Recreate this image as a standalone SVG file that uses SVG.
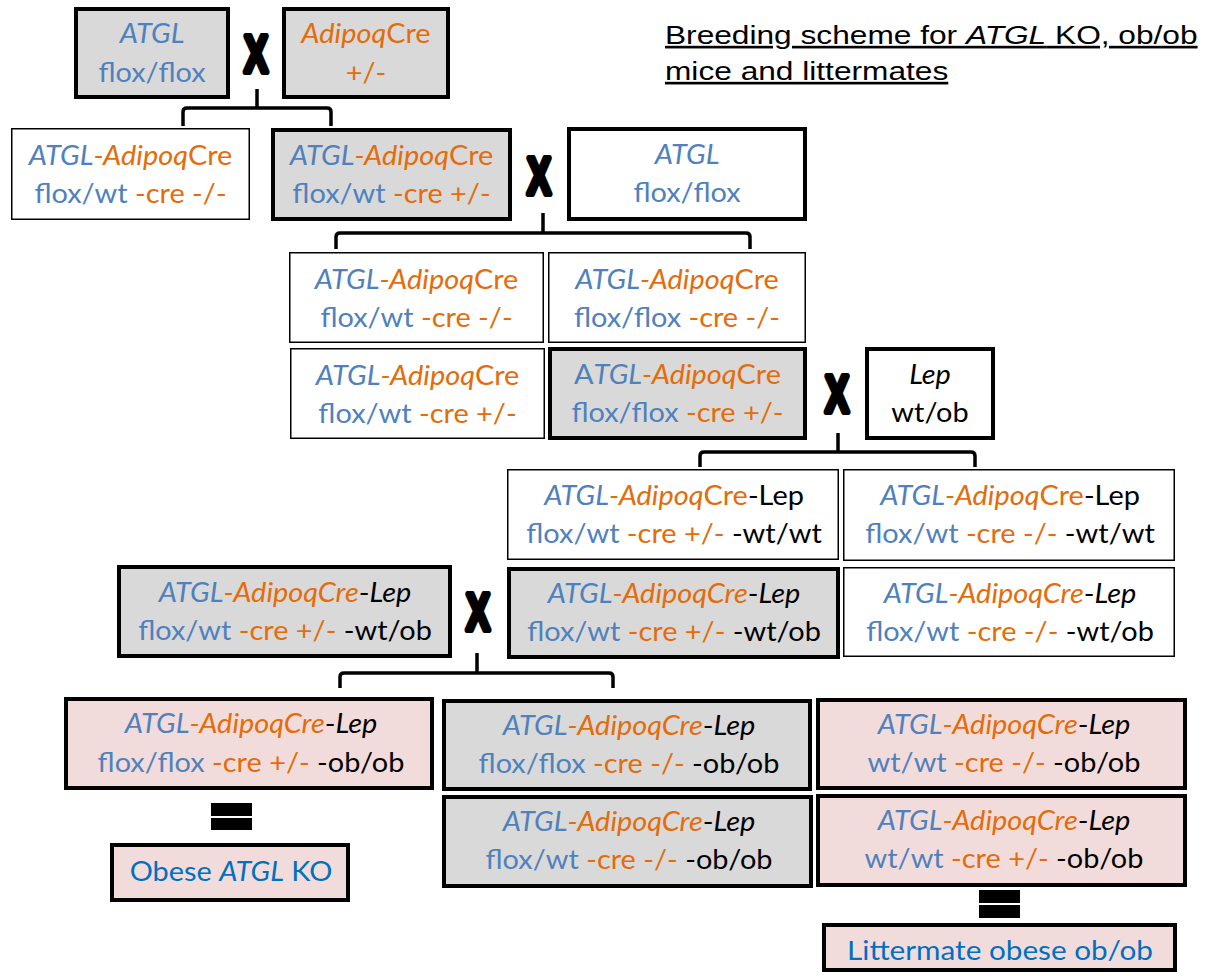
<svg xmlns="http://www.w3.org/2000/svg" width="1215" height="976" viewBox="0 0 1215 976">
<style>
.thin{stroke:#000;stroke-width:1.5}
.thk{stroke:#000;stroke-width:4}
.g{fill:#d9d9d9}.p{fill:#f2dcdb}.w{fill:#fff}
.t{font-family:Lato,"Open Sans",sans-serif;font-size:27px;text-anchor:middle}
.b{fill:#4f81bd}.o{fill:#e46c0a}.k{fill:#000}.i{font-style:italic}.bb{fill:#0070c0}
.ttl{font-family:"Liberation Sans",Arial,sans-serif;font-size:26.5px;fill:#000;text-decoration:underline}
.br{fill:none;stroke:#000;stroke-width:3.5;stroke-linejoin:round;stroke-linecap:butt}
.xm{font-family:"Liberation Sans",Arial,sans-serif;font-weight:bold;font-size:52px;fill:#000;stroke:#000;stroke-width:6;stroke-linejoin:round;text-anchor:middle}
.eq{fill:#000}
</style>
<rect x="0" y="0" width="1215" height="976" fill="#fff"/>

<g id="title" transform="translate(665 0) scale(1.195 1)">
<text class="ttl" x="0" y="44">Breeding scheme for <tspan font-style="italic">ATGL</tspan> KO, ob/ob</text>
<text class="ttl" x="0" y="80">mice and littermates</text>
</g>

<g id="connectors">
<path class="br" d="M257,89 V108 M183,126 V112 Q183,108 187,108 H327 Q331,108 331,112 V126"/>
<path class="br" d="M543,213 V233 M336,249 V237 Q336,233 340,233 H746 Q750,233 750,237 V249"/>
<path class="br" d="M838,433 V452 M700,467 V456 Q700,452 704,452 H971 Q975,452 975,456 V467"/>
<path class="br" d="M477,653 V673 M340,688 V677 Q340,673 344,673 H609 Q613,673 613,677 V688"/>
</g>

<g id="cross1" transform="translate(256 0) scale(0.68 1)"><text class="xm" x="0" y="72">X</text></g>
<g id="cross2" transform="translate(539 0) scale(0.68 1)"><text class="xm" x="0" y="194">X</text></g>
<g id="cross3" transform="translate(837 0) scale(0.68 1)"><text class="xm" x="0" y="412">X</text></g>
<g id="cross4" transform="translate(478 0) scale(0.68 1)"><text class="xm" x="0" y="630">X</text></g>

<g id="equals1"><rect class="eq" x="211" y="803" width="41" height="13"/><rect class="eq" x="211" y="818" width="41" height="12"/></g>
<g id="equals2"><rect class="eq" x="979" y="890" width="41" height="13"/><rect class="eq" x="979" y="905" width="41" height="13"/></g>

<g id="n_atgl_ff">
<rect class="thk g" x="76" y="9" width="152" height="88"/>
<g transform="translate(152 0) scale(1.07 1)">
<text class="t" x="0" y="43"><tspan class="b i">ATGL</tspan></text>
<text class="t" x="0" y="82"><tspan class="b">flox/flox</tspan></text>
</g></g>

<g id="n_adipoq">
<rect class="thk g" x="284" y="9" width="164" height="88"/>
<g transform="translate(366 0) scale(1.07 1)">
<text class="t" x="0" y="43"><tspan class="o i">Adipoq</tspan><tspan class="o">Cre</tspan></text>
<text class="t" x="0" y="82"><tspan class="o">+/-</tspan></text>
</g></g>

<g id="n_f1_neg">
<rect class="thin w" x="11.75" y="128.75" width="237.5" height="90.5"/>
<g transform="translate(130.5 0) scale(1.07 1)">
<text class="t" x="0" y="165"><tspan class="b i">ATGL</tspan><tspan class="o i">-Adipoq</tspan><tspan class="o">Cre</tspan></text>
<text class="t" x="0" y="203"><tspan class="b">flox/wt</tspan><tspan class="o"> -cre -/-</tspan></text>
</g></g>

<g id="n_f1_pos">
<rect class="thk g" x="273" y="130" width="237" height="89"/>
<g transform="translate(391.5 0) scale(1.07 1)">
<text class="t" x="0" y="165"><tspan class="b i">ATGL</tspan><tspan class="o i">-Adipoq</tspan><tspan class="o">Cre</tspan></text>
<text class="t" x="0" y="203"><tspan class="b">flox/wt</tspan><tspan class="o"> -cre +/-</tspan></text>
</g></g>

<g id="n_atgl_ff2">
<rect class="thk w" x="569" y="129" width="236" height="90"/>
<g transform="translate(687 0) scale(1.07 1)">
<text class="t" x="0" y="164"><tspan class="b i">ATGL</tspan></text>
<text class="t" x="0" y="202"><tspan class="b">flox/flox</tspan></text>
</g></g>

<g id="n_f2_fw_neg">
<rect class="thin w" x="289.75" y="252.75" width="253.5" height="89.5"/>
<g transform="translate(416.5 0) scale(1.07 1)">
<text class="t" x="0" y="289"><tspan class="b i">ATGL</tspan><tspan class="o i">-Adipoq</tspan><tspan class="o">Cre</tspan></text>
<text class="t" x="0" y="327"><tspan class="b">flox/wt</tspan><tspan class="o"> -cre -/-</tspan></text>
</g></g>

<g id="n_f2_ff_neg">
<rect class="thin w" x="548.75" y="252.75" width="256.5" height="89.5"/>
<g transform="translate(677 0) scale(1.07 1)">
<text class="t" x="0" y="289"><tspan class="b i">ATGL</tspan><tspan class="o i">-Adipoq</tspan><tspan class="o">Cre</tspan></text>
<text class="t" x="0" y="327"><tspan class="b">flox/flox</tspan><tspan class="o"> -cre -/-</tspan></text>
</g></g>

<g id="n_f2_fw_pos">
<rect class="thin w" x="290.75" y="348.75" width="253.5" height="89.5"/>
<g transform="translate(417.5 0) scale(1.07 1)">
<text class="t" x="0" y="385"><tspan class="b i">ATGL</tspan><tspan class="o i">-Adipoq</tspan><tspan class="o">Cre</tspan></text>
<text class="t" x="0" y="423"><tspan class="b">flox/wt</tspan><tspan class="o"> -cre +/-</tspan></text>
</g></g>

<g id="n_f2_ff_pos">
<rect class="thk g" x="550" y="349" width="255" height="89"/>
<g transform="translate(677.5 0) scale(1.07 1)">
<text class="t" x="0" y="384"><tspan class="b">A</tspan><tspan class="b i">TGL</tspan><tspan class="o i">-Adipoq</tspan><tspan class="o">Cre</tspan></text>
<text class="t" x="0" y="422"><tspan class="b">flox/flox</tspan><tspan class="o"> -cre +/-</tspan></text>
</g></g>

<g id="n_lep">
<rect class="thk w" x="867" y="349" width="126" height="89"/>
<g transform="translate(930 0) scale(1.07 1)">
<text class="t" x="0" y="384"><tspan class="k i">Lep</tspan></text>
<text class="t" x="0" y="422"><tspan class="k">wt/ob</tspan></text>
</g></g>

<g id="n_f3_pos_wtwt">
<rect class="thin w" x="507.75" y="469.75" width="330.5" height="89.5"/>
<g transform="translate(674 0) scale(1.07 1)">
<text class="t" x="0" y="505"><tspan class="b i">ATGL</tspan><tspan class="o i">-Adipoq</tspan><tspan class="o">Cre</tspan><tspan class="k">-Lep</tspan></text>
<text class="t" x="0" y="543"><tspan class="b">flox/wt</tspan><tspan class="o"> -cre +/-</tspan><tspan class="k"> -wt/wt</tspan></text>
</g></g>

<g id="n_f3_neg_wtwt">
<rect class="thin w" x="843.75" y="469.75" width="330.5" height="90.5"/>
<g transform="translate(1010 0) scale(1.07 1)">
<text class="t" x="0" y="505"><tspan class="b i">ATGL</tspan><tspan class="o i">-Adipoq</tspan><tspan class="o">Cre</tspan><tspan class="k">-Lep</tspan></text>
<text class="t" x="0" y="543"><tspan class="b">flox/wt</tspan><tspan class="o"> -cre -/-</tspan><tspan class="k"> -wt/wt</tspan></text>
</g></g>

<g id="n_f3_pos_wtob">
<rect class="thk g" x="509" y="569" width="329" height="88"/>
<g transform="translate(674 0) scale(1.07 1)">
<text class="t" x="0" y="603"><tspan class="b i">ATGL</tspan><tspan class="o i">-AdipoqCre</tspan><tspan class="k">-</tspan><tspan class="k i">Lep</tspan></text>
<text class="t" x="0" y="641"><tspan class="b">flox/wt</tspan><tspan class="o"> -cre +/-</tspan><tspan class="k"> -wt/ob</tspan></text>
</g></g>

<g id="n_f3_neg_wtob">
<rect class="thin w" x="843.75" y="567.75" width="330.5" height="88.5"/>
<g transform="translate(1010 0) scale(1.07 1)">
<text class="t" x="0" y="603"><tspan class="b i">ATGL</tspan><tspan class="o i">-AdipoqCre</tspan><tspan class="k">-</tspan><tspan class="k i">Lep</tspan></text>
<text class="t" x="0" y="641"><tspan class="b">flox/wt</tspan><tspan class="o"> -cre -/-</tspan><tspan class="k"> -wt/ob</tspan></text>
</g></g>

<g id="n_f3_pos_wtob_b">
<rect class="thk g" x="119" y="567" width="331" height="89"/>
<g transform="translate(285 0) scale(1.07 1)">
<text class="t" x="0" y="602"><tspan class="b i">ATGL</tspan><tspan class="o i">-AdipoqCre</tspan><tspan class="k">-</tspan><tspan class="k i">Lep</tspan></text>
<text class="t" x="0" y="640"><tspan class="b">flox/wt</tspan><tspan class="o"> -cre +/-</tspan><tspan class="k"> -wt/ob</tspan></text>
</g></g>

<g id="n_ko">
<rect class="thk p" x="66" y="699" width="366" height="89"/>
<g transform="translate(251 0) scale(1.07 1)">
<text class="t" x="0" y="733"><tspan class="b i">ATGL</tspan><tspan class="o i">-AdipoqCre</tspan><tspan class="k">-</tspan><tspan class="k i">Lep</tspan></text>
<text class="t" x="0" y="772"><tspan class="b">flox/flox</tspan><tspan class="o"> -cre +/-</tspan><tspan class="k"> -ob/ob</tspan></text>
</g></g>

<g id="n_ff_neg_obob">
<rect class="thk g" x="444" y="701" width="366" height="88"/>
<g transform="translate(629 0) scale(1.07 1)">
<text class="t" x="0" y="735"><tspan class="b i">ATGL</tspan><tspan class="o i">-AdipoqCre</tspan><tspan class="k">-</tspan><tspan class="k i">Lep</tspan></text>
<text class="t" x="0" y="773"><tspan class="b">flox/flox</tspan><tspan class="o"> -cre -/-</tspan><tspan class="k"> -ob/ob</tspan></text>
</g></g>

<g id="n_fw_neg_obob">
<rect class="thk g" x="444" y="797" width="367" height="89"/>
<g transform="translate(629 0) scale(1.07 1)">
<text class="t" x="0" y="831"><tspan class="b i">ATGL</tspan><tspan class="o i">-AdipoqCre</tspan><tspan class="k">-</tspan><tspan class="k i">Lep</tspan></text>
<text class="t" x="0" y="869"><tspan class="b">flox/wt</tspan><tspan class="o"> -cre -/-</tspan><tspan class="k"> -ob/ob</tspan></text>
</g></g>

<g id="n_ww_neg_obob">
<rect class="thk p" x="818" y="700" width="367" height="88"/>
<g transform="translate(1004 0) scale(1.07 1)">
<text class="t" x="0" y="734"><tspan class="b i">ATGL</tspan><tspan class="o i">-AdipoqCre</tspan><tspan class="k">-</tspan><tspan class="k i">Lep</tspan></text>
<text class="t" x="0" y="772"><tspan class="b">wt/wt</tspan><tspan class="o"> -cre -/-</tspan><tspan class="k"> -ob/ob</tspan></text>
</g></g>

<g id="n_ww_pos_obob">
<rect class="thk p" x="818" y="796" width="367" height="89"/>
<g transform="translate(1004 0) scale(1.07 1)">
<text class="t" x="0" y="830"><tspan class="b i">ATGL</tspan><tspan class="o i">-AdipoqCre</tspan><tspan class="k">-</tspan><tspan class="k i">Lep</tspan></text>
<text class="t" x="0" y="868"><tspan class="b">wt/wt</tspan><tspan class="o"> -cre +/-</tspan><tspan class="k"> -ob/ob</tspan></text>
</g></g>

<g id="n_obese_ko">
<rect class="thk p" x="112" y="845" width="236" height="55"/>
<g transform="translate(231 0) scale(1.07 1)">
<text class="t bb" x="0" y="881">Obese <tspan class="i">ATGL</tspan> KO</text>
</g></g>

<g id="n_littermate">
<rect class="thk p" x="824" y="925" width="351" height="45"/>
<g transform="translate(1000 0) scale(1.1 1)">
<text class="t bb" x="0" y="960">Littermate obese ob/ob</text>
</g></g>
</svg>
